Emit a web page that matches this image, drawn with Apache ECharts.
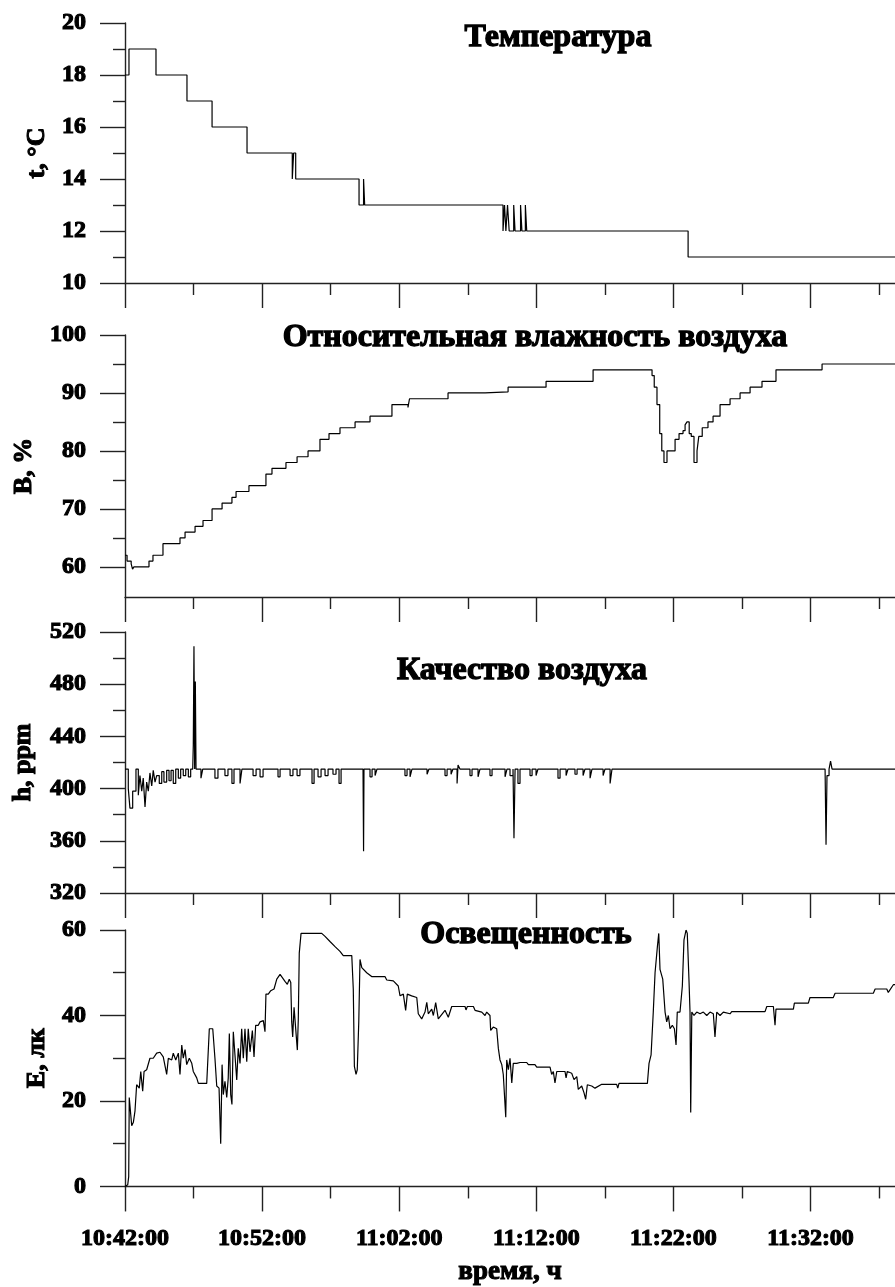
<!DOCTYPE html>
<html><head><meta charset="utf-8">
<script src="https://cdn.jsdelivr.net/npm/echarts@6/dist/echarts.min.js"></script>
<style>html,body{margin:0;padding:0;background:#fff}#c{width:895px;height:1287px}</style>
</head><body><div id="c"></div>
<script>
// ---- time axis (minutes after 10:42:00) ----
const X_MAX = 56.16;
const xMajorTicks = [0, 10, 20, 30, 40, 50];
const xMinorTicks = [5, 15, 25, 35, 45, 55];

// ---- panel titles / axis names ----
const titles = ['Температура', 'Относительная влажность воздуха', 'Качество воздуха', 'Освещенность'];
const yNames = ['t, °C', 'В, %', 'h, ppm', 'E, лк'];
const xName = 'время, ч';

// ---- y-axis ranges & ticks ----
const yMin = [10, 54.8, 320, 0];
const yMax = [20, 100, 520, 60];
const yMajorTicks = [[10, 12, 14, 16, 18, 20], [60, 70, 80, 90, 100], [320, 360, 400, 440, 480, 520], [0, 20, 40, 60]];
const yMinorTicks = [[11, 13, 15, 17, 19], [65, 75, 85, 95], [340, 380, 420, 460, 500], [10, 30, 50]];

// ---- Temperature (step) ----
const tempTime = [0, 0.29, 2.26, 4.52, 6.35, 8.90, 12.20, 12.30, 12.45, 17.07, 17.40, 17.48, 27.57, 27.68, 27.78, 27.90, 28.02, 28.35, 28.45, 28.85, 28.95, 29.20, 29.30, 41.07, 56.16];
const tempVal  = [18, 19, 18, 17, 16, 15, 14, 15, 14, 13, 14, 13, 12, 13, 12, 13, 12, 13, 12, 13, 12, 13, 12, 11, 11];

// ---- Relative humidity (step) ----
const humTime = [0, 0.15, 0.45, 0.55, 0.65, 1.75, 2.04, 2.77, 4.01, 4.38,
  5.11, 5.69, 6.35, 7.08, 7.80, 8.10, 9.04, 10.28, 10.72, 11.74,
  12.55, 13.35, 14.22, 14.88, 15.68, 16.78, 17.87, 19.47, 20.64, 20.75,
  23.56, 26.26, 26.35, 27.94, 30.71, 34.14, 38.44, 38.60, 38.80, 39.00,
  39.15, 39.31, 39.53, 40.12, 40.41, 40.70, 40.85, 40.99, 41.15, 41.30,
  41.50, 41.72, 41.85, 42.10, 42.52, 42.89, 43.40, 44.13, 44.86, 45.59,
  46.46, 47.48, 50.84, 56.16];
const humVal = [62, 61, 60.5, 59.6, 60, 61, 62, 64, 65, 66,
  67, 68, 70, 71, 72, 73, 74, 76, 77, 78,
  79, 80, 82, 83, 84, 85, 86, 88, 87.5, 89,
  90, 89.7, 90.2, 91, 92, 94, 93, 91, 88, 83,
  80, 78, 80, 82, 83, 83.5, 84.5, 85, 83, 82.5,
  78, 80, 82.5, 84, 85, 86, 88, 89, 90, 91,
  92, 94, 95, 95];

// ---- Air quality (step) ----
const airTime = [0, 0.24, 0.36, 0.56, 0.80, 0.97, 1.09, 1.22, 1.33, 1.46,
  1.58, 1.70, 1.82, 1.95, 2.06, 2.19, 2.31, 2.50, 2.68, 2.84,
  3.04, 3.21, 3.36, 3.52, 3.70, 3.89, 4.06, 4.25, 4.43, 4.62,
  4.79, 4.94, 4.98, 5.03, 5.08, 5.13, 5.18, 5.54, 5.67, 6.35,
  6.56, 6.78, 7.29, 7.51, 7.80, 7.95, 8.39, 8.53, 9.34, 9.56,
  9.85, 10.07, 11.16, 11.31, 12.04, 12.25, 12.55, 12.76, 13.64, 13.79,
  14.08, 14.30, 14.59, 14.81, 15.17, 15.39, 15.61, 15.76, 17.36, 17.40,
  17.43, 17.87, 18.02, 18.24, 18.38, 20.42, 20.57, 20.79, 20.93, 22.03,
  22.17, 23.34, 23.49, 23.78, 23.92, 24.22, 24.29, 24.43, 25.16, 25.31,
  25.75, 25.89, 26.62, 26.77, 27.72, 27.86, 28.08, 28.30, 28.37, 28.45,
  28.66, 28.81, 29.54, 29.69, 29.98, 30.12, 31.58, 31.73, 32.17, 32.31,
  32.82, 32.97, 33.41, 33.55, 33.92, 34.06, 34.87, 35.01, 35.38, 35.52,
  51.06, 51.13, 51.20, 51.35, 51.46, 51.57, 56.16];
const airVal = [415, 400, 385, 398, 415, 395, 410, 398, 408, 386,
  405, 398, 412, 402, 414, 405, 410, 404, 413, 405,
  414, 406, 414, 404, 415, 408, 415, 410, 415, 409,
  415, 415, 433, 509, 415, 482, 415, 408, 415, 415,
  408, 415, 410, 415, 404, 415, 404, 415, 410, 415,
  409, 415, 409, 415, 410, 415, 410, 415, 404, 415,
  409, 415, 410, 415, 411, 415, 404, 415, 415, 352,
  415, 409, 415, 410, 415, 410, 415, 409, 415, 411,
  415, 410, 415, 411, 415, 404, 418, 415, 410, 415,
  409, 415, 410, 415, 409, 415, 410, 415, 362, 415,
  404, 415, 410, 415, 410, 415, 408, 415, 410, 415,
  411, 415, 410, 415, 408, 415, 410, 415, 404, 415,
  415, 357, 410, 415, 421, 415, 415];

// ---- Illuminance ----
const luxTime = [0, 0.20, 0.27, 0.31, 0.42, 0.49, 0.61, 0.73, 0.85, 1.04,
  1.15, 1.29, 1.39, 1.58, 1.82, 2.06, 2.31, 2.55, 2.79, 3.04,
  3.16, 3.41, 3.52, 3.70, 3.89, 4.01, 4.14, 4.25, 4.38, 4.50,
  4.69, 4.87, 4.98, 5.23, 5.35, 5.96, 6.15, 6.40, 6.56, 6.69,
  6.86, 6.98, 7.08, 7.17, 7.29, 7.42, 7.53, 7.61, 7.71, 7.80,
  7.90, 8.02, 8.15, 8.26, 8.39, 8.51, 8.63, 8.75, 8.88, 8.99,
  9.12, 9.29, 9.41, 9.53, 9.72, 9.85, 10.09, 10.21, 10.28, 10.45,
  10.63, 10.87, 11.07, 11.31, 11.43, 11.67, 11.84, 11.98, 12.09, 12.16,
  12.23, 12.33, 12.47, 12.57, 12.64, 12.71, 12.84, 14.35, 14.59, 14.95,
  15.32, 15.68, 15.92, 16.54, 16.65, 16.73, 16.85, 16.94, 17.05, 17.14,
  17.27, 17.38, 17.63, 17.99, 18.96, 19.09, 19.57, 19.93, 20.06, 20.30,
  20.47, 20.59, 20.91, 21.28, 21.39, 21.64, 21.88, 22.01, 22.12, 22.37,
  22.49, 22.66, 22.85, 23.34, 23.58, 23.83, 24.80, 24.87, 24.97, 25.41,
  25.53, 26.02, 26.26, 26.38, 26.62, 26.67, 26.86, 27.11, 27.23, 27.35,
  27.48, 27.59, 27.77, 27.84, 27.96, 28.08, 28.21, 28.32, 28.57, 28.81,
  29.30, 29.42, 29.90, 30.03, 31.00, 31.12, 31.24, 31.36, 31.49, 32.09,
  32.17, 32.26, 32.58, 32.75, 32.95, 33.06, 33.31, 33.48, 33.60, 33.72,
  34.04, 34.28, 34.77, 35.86, 35.94, 36.03, 38.10, 38.22, 38.37, 38.53,
  38.66, 38.83, 38.93, 39.02, 39.22, 39.39, 39.51, 39.63, 39.75, 39.92,
  40.07, 40.19, 40.28, 40.48, 40.65, 40.77, 40.92, 41.01, 41.14, 41.21,
  41.26, 41.34, 41.50, 41.70, 41.94, 42.18, 42.43, 42.67, 42.91, 43.03,
  43.16, 43.40, 43.64, 44.13, 44.25, 46.68, 46.81, 47.29, 47.41, 47.48,
  48.75, 48.82, 49.84, 49.96, 51.66, 51.79, 54.58, 54.71, 55.56, 55.67,
  56.04, 56.16];
const luxVal = [0, 0.4, 2.3, 20.8, 20.8, 14.2, 15, 17.7, 23.8, 23,
  26.9, 22.3, 26.9, 27.3, 30, 30, 31.2, 31.4, 30.3, 26.2,
  30, 29.6, 31.2, 29.6, 31.2, 26.2, 33.1, 30, 32, 28.5,
  30, 28.8, 26.9, 25.4, 24.1, 24.1, 36.9, 36.9, 30, 23.5,
  23, 10, 28.5, 21.5, 24.6, 20.8, 25.4, 35.8, 21.5, 19.2,
  36.2, 36.2, 24.9, 32.3, 28.8, 36.9, 30, 36.9, 29.2, 36.9,
  31.5, 36.5, 30.3, 37.7, 37.7, 38.5, 38.8, 36.2, 45, 45,
  45.8, 46.2, 48.5, 49.6, 50, 48, 47.3, 48.5, 47.7, 38.5,
  35, 41.9, 41.9, 31.9, 39.2, 54.6, 59.2, 59.2, 58.5, 57.3,
  56.1, 55, 54, 54, 46.2, 28.1, 26.2, 27.3, 38.5, 53.1,
  51.2, 50.8, 50, 49.1, 49.1, 48.3, 48.1, 46.9, 44.6, 45,
  41.2, 45, 44.6, 44.2, 40.4, 39.2, 40.8, 43.1, 40.4, 41.5,
  40, 43, 39.2, 41.2, 39.6, 42.1, 42.1, 41.3, 42.1, 42.1,
  41.2, 40.8, 40, 40.8, 40, 36.5, 37.3, 36.9, 32.3, 29.6,
  28.5, 26.2, 16.2, 29.6, 27.3, 30, 24.2, 28.8, 28.8, 29,
  29, 28.5, 28.5, 27.9, 27.9, 26.2, 26.9, 24.2, 26.9, 26.9,
  25.4, 26.9, 26.5, 25, 25.7, 22.7, 23.5, 21.9, 20.4, 23.8,
  23.5, 23, 23.9, 23.9, 23, 24.1, 24.1, 28.8, 30.8, 40.8,
  50, 56.1, 59.2, 50.8, 48.5, 40.8, 38.5, 40, 36.9, 37.7,
  36.9, 33.1, 40.8, 40.8, 46.9, 57.7, 60, 59.2, 47.7, 40.8,
  17.3, 40.8, 40, 40.8, 40.4, 40.8, 40, 40.8, 40.4, 35,
  40.8, 40, 40.8, 40.4, 40.9, 40.9, 42.1, 42.1, 37.7, 41.5,
  41.5, 42.9, 42.9, 44.2, 44.2, 45.2, 45.2, 46.2, 46.2, 45.4,
  47.2, 47.2];

// ---------------- chart ----------------
const FONT = '"Liberation Serif","Times New Roman",serif';
const AX = '#222';
const zip = (t, v) => t.map((x, i) => [x, v[i]]);
function fmtTime(m) {
  const s = Math.round(m * 60) + 10 * 3600 + 42 * 60;
  const h = Math.floor(s / 3600), mm = Math.floor((s % 3600) / 60), ss = s % 60;
  return h + ':' + String(mm).padStart(2, '0') + ':' + String(ss).padStart(2, '0');
}
const gridPos = [[23, 260], [335, 262], [632, 261], [930, 260]];
const yNameGap = [74, 88, 89, 74];
const titlePos = [[558, 38], [535, 338], [522, 671], [526, 935]];
const heavy = { textBorderColor: '#000', textBorderWidth: 1.1 };

const grid = gridPos.map(g => ({ left: 125, right: 0, top: g[0], height: g[1] }));
const xAxis = [], yAxis = [], series = [];
const lineSty = { color: AX, width: 1.4 };
const datasets = [zip(tempTime, tempVal), zip(humTime, humVal), zip(airTime, airVal), zip(luxTime, luxVal)];
const steps = ['end', 'end', 'end', false];
for (let i = 0; i < 4; i++) {
  const last = i === 3;
  xAxis.push({
    type: 'value', gridIndex: i, min: 0, max: X_MAX, position: 'bottom',
    axisLine: { show: true, onZero: false, lineStyle: lineSty },
    axisTick: { show: true, inside: false, length: 25, customValues: xMajorTicks, lineStyle: lineSty },
    axisLabel: Object.assign({ show: last, customValues: xMajorTicks, formatter: fmtTime, margin: 40,
      fontFamily: FONT, fontWeight: 'bold', fontSize: 24, color: '#000' }, heavy),
    splitLine: { show: false },
    name: last ? xName : '', nameLocation: 'middle', nameGap: 72,
    nameTextStyle: Object.assign({ fontFamily: FONT, fontWeight: 'bold', fontSize: 27, color: '#000' }, heavy)
  });
  xAxis.push({
    type: 'value', gridIndex: i, min: 0, max: X_MAX, position: 'bottom',
    axisLine: { show: false },
    axisTick: { show: true, inside: false, length: 12, customValues: xMinorTicks, lineStyle: lineSty },
    axisLabel: { show: false }, splitLine: { show: false }
  });
  yAxis.push({
    type: 'value', gridIndex: i, min: yMin[i], max: yMax[i], position: 'left',
    axisLine: { show: true, onZero: false, lineStyle: lineSty },
    axisTick: { show: true, inside: false, length: 25, customValues: yMajorTicks[i], lineStyle: lineSty },
    axisLabel: Object.assign({ show: true, customValues: yMajorTicks[i], margin: 39,
      fontFamily: FONT, fontWeight: 'bold', fontSize: 24, color: '#000' }, heavy),
    splitLine: { show: false },
    name: yNames[i], nameLocation: 'middle', nameGap: yNameGap[i],
    nameTextStyle: Object.assign({ fontFamily: FONT, fontWeight: 'bold', fontSize: 26, color: '#000' }, heavy)
  });
  yAxis.push({
    type: 'value', gridIndex: i, min: yMin[i], max: yMax[i], position: 'left',
    axisLine: { show: false },
    axisTick: { show: true, inside: false, length: 12, customValues: yMinorTicks[i], lineStyle: lineSty },
    axisLabel: { show: false }, splitLine: { show: false }
  });
  series.push({
    type: 'line', xAxisIndex: 2 * i, yAxisIndex: 2 * i, data: datasets[i],
    step: steps[i], symbol: 'none', showSymbol: false,
    lineStyle: { color: '#000', width: 1.2 }, clip: true
  });
}
const graphic = titles.map((t, i) => ({
  type: 'text', x: titlePos[i][0], y: titlePos[i][1],
  style: { text: t, font: 'bold 32px ' + FONT, fill: '#000', stroke: '#000', lineWidth: 1.3,
    textAlign: 'center', textVerticalAlign: 'middle' }
}));

const chart = echarts.init(document.getElementById('c'), null, { renderer: 'canvas' });
chart.setOption({ animation: false, backgroundColor: '#fff', grid, xAxis, yAxis, series, graphic });
</script>
</body></html>
